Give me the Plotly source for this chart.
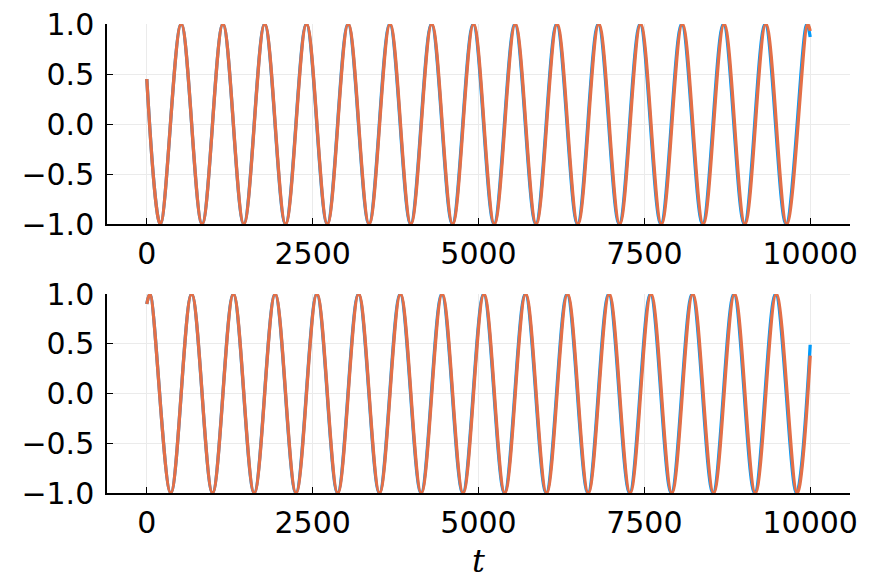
import plotly.graph_objects as go
from plotly.subplots import make_subplots

# Turning points (extrema), plus start/end values
TOP_T_BLUE = [0, 204, 518, 833, 1147, 1461, 1776, 2090, 2405, 2719, 3033, 3348, 3662, 3976, 4291, 4605,
              4920, 5233, 5548, 5863, 6177, 6491, 6805, 7120, 7435, 7748, 8063, 8377, 8692, 9006, 9320,
              9635, 9949, 10000]
TOP_Y_BLUE = [0.45, -1, 1, -1, 1, -1, 1, -1, 1, -1, 1, -1, 1, -1, 1, -1, 1, -1, 1, -1, 1, -1, 1, -1, 1,
              -1, 1, -1, 1, -1, 1, -1, 1, 0.87]
TOP_T_ORANGE = [0, 204, 519, 834, 1148, 1463, 1778, 2093, 2408, 2722, 3037, 3352, 3667, 3981, 4296, 4611,
                4926, 5240, 5555, 5870, 6185, 6499, 6814, 7129, 7444, 7758, 8073, 8388, 8703, 9017, 9332,
                9647, 9962, 10000]
TOP_Y_ORANGE = [0.45, -1, 1, -1, 1, -1, 1, -1, 1, -1, 1, -1, 1, -1, 1, -1, 1, -1, 1, -1, 1, -1, 1, -1, 1,
                -1, 1, -1, 1, -1, 1, -1, 1, 0.93]

BOT_T_BLUE = [0, 47, 361, 675, 990, 1304, 1618, 1933, 2247, 2562, 2875, 3190, 3505, 3819, 4133, 4447,
              4762, 5077, 5390, 5705, 6019, 6334, 6648, 6962, 7277, 7591, 7905, 8220, 8534, 8849, 9162,
              9477, 9792, 10000]
BOT_Y_BLUE = [0.9, 1, -1, 1, -1, 1, -1, 1, -1, 1, -1, 1, -1, 1, -1, 1, -1, 1, -1, 1, -1, 1, -1, 1, -1,
              1, -1, 1, -1, 1, -1, 1, -1, 0.49]
BOT_T_ORANGE = [0, 47, 361, 676, 991, 1306, 1620, 1935, 2250, 2565, 2879, 3194, 3509, 3824, 4138, 4453,
                4768, 5083, 5397, 5712, 6027, 6342, 6656, 6971, 7286, 7601, 7915, 8230, 8545, 8860, 9174,
                9489, 9804, 10000]
BOT_Y_ORANGE = [0.9, 1, -1, 1, -1, 1, -1, 1, -1, 1, -1, 1, -1, 1, -1, 1, -1, 1, -1, 1, -1, 1, -1, 1, -1,
                1, -1, 1, -1, 1, -1, 1, -1, 0.38]

X_TICKS = [0, 2500, 5000, 7500, 10000]
Y_TICKS = [-1.0, -0.5, 0.0, 0.5, 1.0]

BLUE = "#009AFA"
ORANGE = "#E36F47"
W, H = 886, 586

fig = make_subplots(rows=2, cols=1)
for row, (tb, yb, to, yo) in enumerate([(TOP_T_BLUE, TOP_Y_BLUE, TOP_T_ORANGE, TOP_Y_ORANGE),
                                         (BOT_T_BLUE, BOT_Y_BLUE, BOT_T_ORANGE, BOT_Y_ORANGE)], start=1):
    fig.add_trace(go.Scatter(x=tb, y=yb, mode="lines", line=dict(color=BLUE, width=3.3, shape="spline"),
                             showlegend=False, hoverinfo="skip"), row=row, col=1)
    fig.add_trace(go.Scatter(x=to, y=yo, mode="lines", line=dict(color=ORANGE, width=3.3, shape="spline"),
                             showlegend=False, hoverinfo="skip"), row=row, col=1)

font = dict(family="DejaVu Sans", size=30, color="black")
axis_common = dict(showline=True, linecolor="black", linewidth=1.5, ticks="inside", ticklen=6,
                   tickcolor="black", tickwidth=1.2, showgrid=True, gridcolor="#ebebeb", gridwidth=1,
                   zeroline=False, tickfont=font, mirror=False, automargin=False)

xdom = [107 / W, 850 / W]
fig.update_layout(
    width=W, height=H, margin=dict(l=0, r=0, t=0, b=0, autoexpand=False),
    plot_bgcolor="white", paper_bgcolor="white",
    xaxis=dict(domain=xdom, range=[-600, 10600], tickvals=X_TICKS, tickformat="d",
               ticklabelstandoff=2, **axis_common),
    xaxis2=dict(domain=xdom, range=[-600, 10600], tickvals=X_TICKS, tickformat="d", ticklabelstandoff=2,
                title=dict(text="<i>t</i>", font=dict(family="DejaVu Serif", size=32, color="black"),
                           standoff=11), **axis_common),
    yaxis=dict(domain=[(H - 224) / H, (H - 24) / H], range=[-1, 1], tickvals=Y_TICKS, tickformat=".1f",
               ticklabelstandoff=5, **axis_common),
    yaxis2=dict(domain=[(H - 493) / H, (H - 294) / H], range=[-1, 1], tickvals=Y_TICKS, tickformat=".1f",
                ticklabelstandoff=5, **axis_common),
)

fig.write_html("out.html", config={"displayModeBar": False},
               post_script="document.body.style.margin='0';")
